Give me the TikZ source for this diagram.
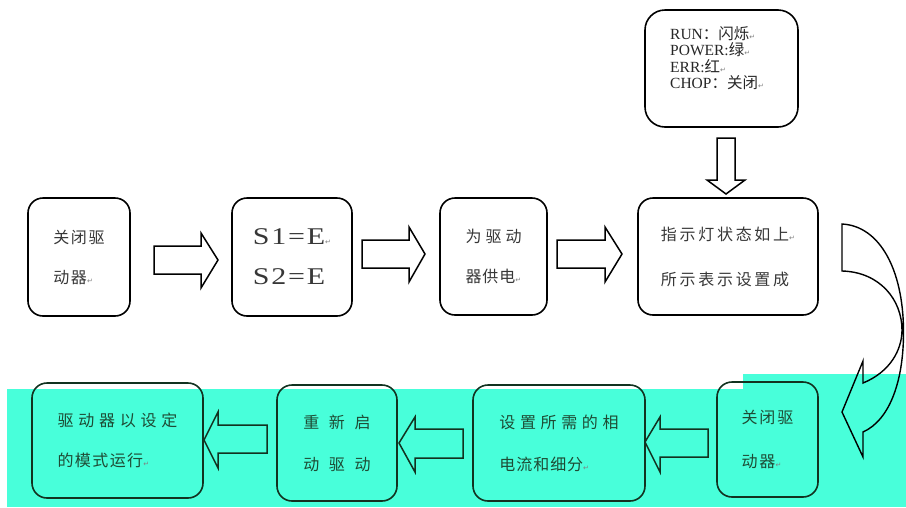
\documentclass[tikz,border=0pt]{standalone}
\usepackage{fontspec}
\setmainfont{Liberation Serif}
\newfontfamily\cjk{Noto Sans CJK SC}
\newfontfamily\dejavu{DejaVu Sans}
\newcommand\lsp[1]{\addfontfeature{LetterSpace=#1}}
\newcommand\parmk{{\dejavu\fontsize{7}{7}\selectfont\textcolor{gray}{↵}}}
\definecolor{teal1}{RGB}{72,255,218}
\definecolor{txtg}{RGB}{55,55,55}
\definecolor{dkg}{RGB}{18,50,32}
\definecolor{txtb}{RGB}{30,75,52}
\begin{document}
\begin{tikzpicture}[x=1pt,y=-1pt,
  box/.style={draw=black, line width=1.6pt, rounded corners=15pt, inner sep=0pt,
    align=left, text=txtg, font=\cjk\fontsize{16}{40}\selectfont},
  lowbox/.style={box, draw=dkg, text=txtb},
  blockarrow/.style={draw=black, line width=1.5pt, line join=miter},
  lowarrow/.style={blockarrow, draw=dkg}]
\useasboundingbox (0,0) rectangle (906,507);
% turquoise band
\fill[teal1] (7,389) rectangle (906,507);
\fill[teal1] (743,374) rectangle (906,389);

% status box
\node[box, minimum width=153pt, minimum height=117pt, rounded corners=20pt] (status) at (721.5,68.5) {};
\node[anchor=west, align=left, inner sep=0pt, text=black!85,
  font=\fontsize{15.5}{16.5}\selectfont] (statustxt) at (670,58)
  {RUN{\cjk ：闪烁}\parmk\\POWER:{\cjk 绿}\parmk\\ERR:{\cjk 红}\parmk\\CHOP{\cjk ：关闭}\parmk};

% top row
\node[box, minimum width=102pt, minimum height=118pt] (t1) at (79,257)
  {{\lsp{9.4}关闭驱}\\{\lsp{9.4}动器}\parmk};
\node[box, minimum width=120pt, minimum height=118pt,
  font=\fontsize{24}{40}\selectfont] (t2) at (292,257)
  {\scalebox{1.25}[1]{\lsp{6}S1=E}\parmk\\\scalebox{1.25}[1]{\lsp{6}S2=E}};
\node[box, minimum width=107pt, minimum height=117pt] (t3) at (493.5,256.5)
  {{\lsp{25}为驱动}\\{\lsp{6}器供电}\parmk};
\node[box, minimum width=180pt, minimum height=117pt] (t4) at (728,256.5)
  {{\lsp{17}指示灯状态如上}\parmk\\[5pt]{\lsp{17}所示表示设置成}};

% bottom row
\node[lowbox, minimum width=171pt, minimum height=115pt] (b1) at (117.5,440.5)
  {{\lsp{30}驱动器以设定}\\{\lsp{9}的模式运行}\parmk};
\node[lowbox, minimum width=120pt, minimum height=116pt] (b2) at (337,443)
  {{\lsp{60}重新启}\\[2pt]{\lsp{60}动驱动}};
\node[lowbox, minimum width=172pt, minimum height=116pt] (b3) at (559,443)
  {{\lsp{29}设置所需的相}\\[2pt]{\lsp{6}电流和细分}\parmk};
\node[lowbox, minimum width=101pt, minimum height=115pt] (b4) at (767.5,439.5)
  {{\lsp{12}关闭驱}\\[4pt]{\lsp{12}动器}\parmk};

% block arrows, top row
\draw[blockarrow] (154,246) -- (201,246) -- (201,233) -- (218,260) -- (201,288) -- (201,274) -- (154,274) -- cycle;
\draw[blockarrow] (362,240) -- (409,240) -- (409,227) -- (425,254) -- (409,282) -- (409,268) -- (362,268) -- cycle;
\draw[blockarrow] (557,240) -- (605,240) -- (605,227) -- (622,254) -- (605,282) -- (605,268) -- (557,268) -- cycle;
% down arrow
\draw[blockarrow] (717,138) -- (735,138) -- (735,180) -- (745,180) -- (726,194) -- (707,180) -- (717,180) -- cycle;
% bottom row arrows (pointing left)
\draw[lowarrow] (267,425) -- (218,425) -- (218,412) -- (204,440) -- (218,468) -- (218,453) -- (267,453) -- cycle;
\draw[lowarrow] (463,429) -- (415,429) -- (415,417) -- (399,443) -- (415,472) -- (415,458) -- (463,458) -- cycle;
\draw[lowarrow] (708,429) -- (660,429) -- (660,417) -- (645,442) -- (660,472) -- (660,457) -- (708,457) -- cycle;
% curved arrow
\draw[blockarrow, line width=1.4pt] (842,224) .. controls (880,226) and (903,270) .. (903.5,330)
  .. controls (904,380) and (890,420) .. (863,432) -- (863,457) -- (842,412) -- (863,361) -- (863,383)
  .. controls (890,372) and (902,350) .. (902,330)
  .. controls (902,300) and (880,272) .. (842,271) -- cycle;
\end{tikzpicture}
\end{document}
